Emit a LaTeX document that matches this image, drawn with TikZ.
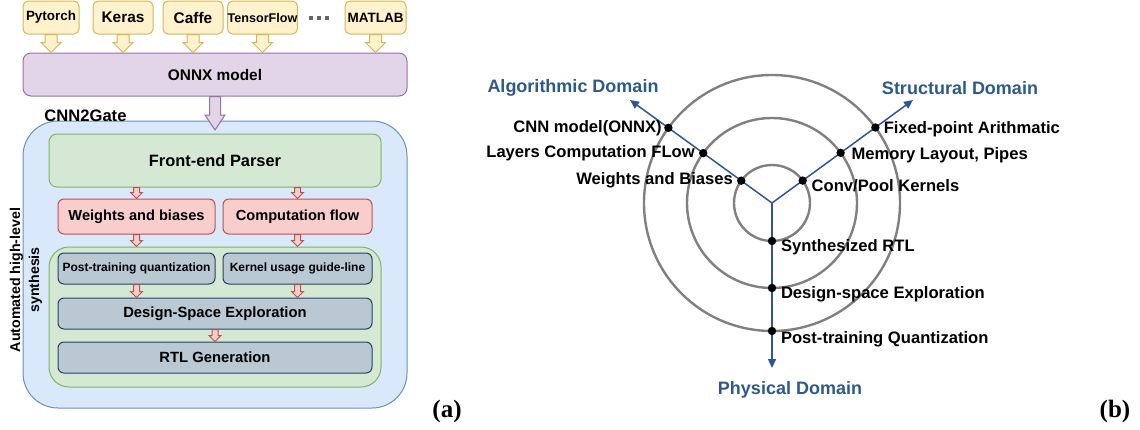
\documentclass[tikz,border=0pt]{standalone}
\usepackage{fontspec}
\setmainfont{Liberation Sans}
\newfontfamily\seriffont{Liberation Serif}
\usetikzlibrary{calc,arrows.meta}
\definecolor{yfill}{HTML}{FFF2CC}\definecolor{ydraw}{HTML}{D6B656}
\definecolor{pfill}{HTML}{E1D5E7}\definecolor{pdraw}{HTML}{9673A6}
\definecolor{bfill}{HTML}{DAE8FC}\definecolor{bdraw}{HTML}{6C8EBF}
\definecolor{gfill}{HTML}{D5E8D4}\definecolor{gdraw}{HTML}{82B366}
\definecolor{rfill}{HTML}{F8CECC}\definecolor{rdraw}{HTML}{B85450}
\definecolor{sfill}{HTML}{BAC8D3}\definecolor{sdraw}{HTML}{23445D}
\definecolor{axisblue}{HTML}{2F5597}
\definecolor{domblue}{HTML}{2E5A88}
\definecolor{ringgray}{HTML}{808080}
\newcommand\fsz[2]{\fontsize{#1}{#2}\selectfont}
% vertical block arrow from #1 down to #2; body half width #3, head half width #4, head length #5, style #6
\newcommand\blockarrow[6]{\path[#6] let \p1=(#1), \p2=(#2) in
  (\x1-#3,\y1) -- (\x1+#3,\y1) -- (\x1+#3,\y2+#5) -- (\x1+#4,\y2+#5) -- (\x1,\y2)
  -- (\x1-#4,\y2+#5) -- (\x1-#3,\y2+#5) -- cycle;}
\tikzset{
  box/.style={draw, inner sep=0pt, line width=0.5pt, font=\bfseries, align=center},
  ybox/.style={box, fill=yfill, draw=ydraw, rounded corners=2.5pt, minimum height=16.5pt},
  rbox/.style={box, fill=rfill, draw=rdraw, rounded corners=3pt, minimum height=17.5pt, font=\bfseries\fsz{7.3}{9}},
  sbox/.style={box, fill=sfill, draw=sdraw, rounded corners=3pt, minimum height=15.5pt},
  yarrow/.style={fill=yfill, draw=ydraw, line width=0.5pt},
  rarrow/.style={fill=rfill, draw=rdraw, line width=0.5pt},
  parrow/.style={fill=pfill, draw=pdraw, line width=0.5pt},
  ring/.style={draw=ringgray, line width=1.2pt},
  axis/.style={draw=axisblue, line width=0.75pt, -{Triangle[length=4.5pt,width=4pt]}},
  dot/.style={circle, fill=black, inner sep=0pt, minimum size=4.2pt},
  item/.style={font=\bfseries\fsz{8.3}{10}, inner sep=0.5pt},
  dom/.style={font=\bfseries\fsz{9}{11}, text=domblue, inner sep=0pt},
  sublabel/.style={font=\seriffont\bfseries\fsz{12.5}{14}, inner sep=0pt}
}
\begin{document}
\begin{tikzpicture}[x=0.5pt,y=-0.5pt]
\useasboundingbox (0,0) rectangle (1140,429);
% ---------- (a) ----------
\node[ybox, minimum width=28pt, font=\bfseries\fsz{6.7}{8}] (pyt) at (51,17.5) {Pytorch};
\node[ybox, minimum width=30pt, font=\bfseries\fsz{7.7}{9}] (ker) at (123,17.5) {Keras};
\node[ybox, minimum width=30pt, font=\bfseries\fsz{7.7}{9}] (caf) at (193,17.5) {Caffe};
\node[ybox, minimum width=30.5pt, font=\bfseries\fsz{6.3}{8}] (tf) at (262.5,17.5) {TensorFlow};
\node[text=black!60, inner sep=0pt] (dots) at (319,18) {\rule{2pt}{2pt}\hspace{1.8pt}\rule{2pt}{2pt}\hspace{1.8pt}\rule{2pt}{2pt}};
\node[ybox, minimum width=30.5pt, font=\bfseries\fsz{6.75}{8}] (mat) at (375.5,17.5) {MATLAB};
\node[box, fill=pfill, draw=pdraw, rounded corners=4pt, minimum width=192pt, minimum height=21.5pt, font=\bfseries\fsz{7.7}{9}] (onnx) at (215,74.5) {ONNX model};
\foreach \bx in {pyt,ker,caf,tf,mat}{\blockarrow{\bx.south}{\bx.south |- onnx.north}{3pt}{5pt}{5pt}{yarrow}}
\node[box, fill=bfill, draw=bdraw, rounded corners=17.5pt, minimum width=192pt, minimum height=143.5pt] (cnn) at (215,264.5) {};
\node[anchor=west, inner sep=0pt, font=\bfseries\fsz{8.3}{10}] (cnnlbl) at (44,116) {CNN2Gate};
\coordinate (pin) at (215,130);
\blockarrow{onnx.south}{pin}{2.75pt}{5pt}{7.5pt}{parrow}
\node[box, fill=gfill, draw=gdraw, rounded corners=4pt, minimum width=166pt, minimum height=26.5pt, font=\bfseries\fsz{8.2}{10}] (fe) at (215,160.5) {Front-end Parser};
\node[rbox, minimum width=78.5pt] (wb) at (136.5,216.5) {Weights and biases};
\node[rbox, minimum width=74.5pt] (cf) at (297.5,216.5) {Computation flow};
\node[box, fill=gfill, draw=gdraw, rounded corners=10pt, minimum width=166pt, minimum height=70pt] (syn) at (215,317) {};
\node[sbox, minimum width=78.5pt, font=\bfseries\fsz{6}{7}] (ptq) at (136.5,268.5) {Post-training quantization};
\node[sbox, minimum width=74.5pt, font=\bfseries\fsz{6}{7}] (kug) at (297.5,268.5) {Kernel usage guide-line};
\node[sbox, minimum width=157pt, font=\bfseries\fsz{7.4}{9}] (dse) at (215,313.5) {Design-Space Exploration};
\node[sbox, minimum width=157pt, font=\bfseries\fsz{7.4}{9}] (rtl) at (215,357.5) {RTL Generation};
\blockarrow{wb.north |- fe.south}{wb.north}{1.5pt}{3pt}{3pt}{rarrow}
\blockarrow{cf.north |- fe.south}{cf.north}{1.5pt}{3pt}{3pt}{rarrow}
\blockarrow{wb.south}{wb.south |- syn.north}{1.5pt}{3pt}{3pt}{rarrow}
\blockarrow{cf.south}{cf.south |- syn.north}{1.5pt}{3pt}{3pt}{rarrow}
\blockarrow{ptq.south}{ptq.south |- dse.north}{1.5pt}{3pt}{3pt}{rarrow}
\blockarrow{kug.south}{kug.south |- dse.north}{1.5pt}{3pt}{3pt}{rarrow}
\blockarrow{dse.south}{rtl.north}{1.5pt}{3pt}{3pt}{rarrow}
\node[rotate=90, align=center, inner sep=0pt, font=\bfseries\fsz{7.1}{9.5}] (ahls) at (26,280) {Automated high-level\\synthesis};
\node[sublabel] (la) at (447,411) {(a)};
% ---------- (b) ----------
\coordinate (O) at (772,203);
\draw[ring] (O) circle[radius=19pt];
\draw[ring] (O) circle[radius=42.5pt];
\draw[ring] (O) circle[radius=64pt];
\coordinate (tipA) at (630,100);
\coordinate (tipS) at (913,100);
\coordinate (tipP) at (772,368);
\draw[axis] (O) -- (tipA);
\draw[axis] (O) -- (tipS);
\draw[axis] (O) -- (tipP);
\node[dot] (a1) at ($(O)!64pt!(tipA)$) {};
\node[dot] (a2) at ($(O)!42.5pt!(tipA)$) {};
\node[dot] (a3) at ($(O)!19pt!(tipA)$) {};
\node[dot] (s1) at ($(O)!64pt!(tipS)$) {};
\node[dot] (s2) at ($(O)!42.5pt!(tipS)$) {};
\node[dot] (s3) at ($(O)!19pt!(tipS)$) {};
\node[dot] (p1) at ($(O)!19pt!(tipP)$) {};
\node[dot] (p2) at ($(O)!42.5pt!(tipP)$) {};
\node[dot] (p3) at ($(O)!64pt!(tipP)$) {};
\node[item, anchor=east] (ta1) at ([xshift=-0.3pt]a1.west) {CNN model(ONNX)};
\node[item, anchor=east] (ta2) at ([xshift=-1.2pt]a2.west) {Layers Computation FLow};
\node[item, anchor=east] (ta3) at ([xshift=-1.2pt]a3.west) {Weights and Biases};
\node[item, anchor=west] (ts1) at ([xshift=1.2pt,yshift=-1pt]s1.east) {Fixed-point Arithmatic};
\node[item, anchor=west] (ts2) at ([xshift=2.5pt,yshift=-1pt]s2.east) {Memory Layout, Pipes};
\node[item, anchor=west] (ts3) at ([xshift=1.5pt,yshift=-2.5pt]s3.east) {Conv/Pool Kernels};
\node[item, anchor=west] (tp1) at ([xshift=1.5pt,yshift=-3pt]p1.east) {Synthesized RTL};
\node[item, anchor=west] (tp2) at ([xshift=1.5pt,yshift=-3pt]p2.east) {Design-space Exploration};
\node[item, anchor=west] (tp3) at ([xshift=1.5pt,yshift=-4pt]p3.east) {Post-training Quantization};
\node[dom] (dA) at (573,88) {Algorithmic Domain};
\node[dom] (dS) at (960,88) {Structural Domain};
\node[dom] (dP) at (790,390) {Physical Domain};
\node[sublabel] (lb) at (1115,411) {(b)};
\end{tikzpicture}
\end{document}
